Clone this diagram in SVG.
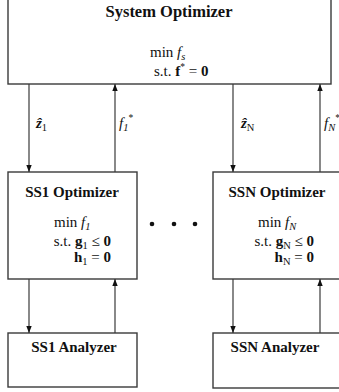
<svg xmlns="http://www.w3.org/2000/svg" width="339" height="392" viewBox="0 0 339 392">
  <defs>
    <marker id="arrow" viewBox="0 0 7 6" refX="7" refY="3" markerWidth="7" markerHeight="6" markerUnits="userSpaceOnUse" orient="auto">
      <path d="M0,0.3 L7,3 L0,5.7 Z" fill="#111"/>
    </marker>
  </defs>
  <style>
    .box { fill: #fff; stroke: #3a3a3a; stroke-width: 1.4; }
    .wire { stroke: #3a3a3a; stroke-width: 1.2; fill: none; }
    .title { font-family: "Liberation Serif", "Times New Roman", serif; font-weight: bold; font-size: 15px; fill: #111; text-anchor: middle; }
    .math { font-family: "Liberation Serif", "Times New Roman", serif; font-size: 15px; fill: #111; }
    .it { font-style: italic; }
    .bf { font-weight: bold; }
    .dot { fill: #111; }
  </style>

  <!-- system-level optimizer -->
  <g id="system-optimizer">
    <rect class="box" x="8" y="-4" width="323" height="88"/>
    <text class="title" x="169" y="17" style="font-size:16.5px">System Optimizer</text>
    <text class="math" x="150" y="57">min <tspan class="it">f</tspan><tspan class="it" font-size="10.5" dy="2.5">s</tspan></text>
    <text class="math" x="154" y="76">s.t. <tspan class="bf">f</tspan><tspan font-size="9.5" dy="-6">*</tspan><tspan dy="6"> = </tspan><tspan class="bf">0</tspan></text>
  </g>

  <!-- subsystem 1 optimizer -->
  <g id="ss1-optimizer">
    <rect class="box" x="8" y="172" width="129" height="107"/>
    <text class="title" x="72" y="197">SS1 Optimizer</text>
    <text class="math" x="54" y="227">min <tspan class="it">f</tspan><tspan class="it" font-size="10.5" dy="2.5">1</tspan></text>
    <text class="math" x="111" y="246" text-anchor="end">s.t. <tspan class="bf">g</tspan><tspan font-size="10.5" dy="2.5">1</tspan><tspan dy="-2.5"> ≤ </tspan><tspan class="bf">0</tspan></text>
    <text class="math" x="111" y="262" text-anchor="end"><tspan class="bf">h</tspan><tspan font-size="10.5" dy="2.5">1</tspan><tspan dy="-2.5"> = </tspan><tspan class="bf">0</tspan></text>
  </g>

  <!-- subsystem N optimizer -->
  <g id="ssn-optimizer">
    <rect class="box" x="213" y="172" width="132" height="107"/>
    <text class="title" x="277" y="197">SSN Optimizer</text>
    <text class="math" x="258" y="227">min <tspan class="it">f</tspan><tspan class="it" font-size="10.5" dy="2.5">N</tspan></text>
    <text class="math" x="314" y="246" text-anchor="end">s.t. <tspan class="bf">g</tspan><tspan font-size="10.5" dy="2.5">N</tspan><tspan dy="-2.5"> ≤ </tspan><tspan class="bf">0</tspan></text>
    <text class="math" x="314" y="262" text-anchor="end"><tspan class="bf">h</tspan><tspan font-size="10.5" dy="2.5">N</tspan><tspan dy="-2.5"> = </tspan><tspan class="bf">0</tspan></text>
  </g>

  <!-- subsystem analyzers -->
  <g id="ss1-analyzer">
    <rect class="box" x="8" y="333" width="129" height="54"/>
    <text class="title" x="74" y="352">SS1 Analyzer</text>
  </g>
  <g id="ssn-analyzer">
    <rect class="box" x="213" y="333" width="132" height="55"/>
    <text class="title" x="275" y="352">SSN Analyzer</text>
  </g>

  <!-- ellipsis between subsystems -->
  <g id="ellipsis">
    <circle class="dot" cx="152" cy="224" r="2.3"/>
    <circle class="dot" cx="174" cy="224" r="2.3"/>
    <circle class="dot" cx="195" cy="224" r="2.3"/>
  </g>

  <!-- connectors -->
  <g id="connectors">
    <line class="wire" x1="29" y1="84" x2="29" y2="172" marker-end="url(#arrow)"/>
    <line class="wire" x1="115" y1="172" x2="115" y2="84" marker-end="url(#arrow)"/>
    <line class="wire" x1="233" y1="84" x2="233" y2="172" marker-end="url(#arrow)"/>
    <line class="wire" x1="320" y1="172" x2="320" y2="84" marker-end="url(#arrow)"/>
    <line class="wire" x1="29" y1="279" x2="29" y2="333" marker-end="url(#arrow)"/>
    <line class="wire" x1="115" y1="333" x2="115" y2="279" marker-end="url(#arrow)"/>
    <line class="wire" x1="233" y1="279" x2="233" y2="333" marker-end="url(#arrow)"/>
    <line class="wire" x1="320" y1="333" x2="320" y2="279" marker-end="url(#arrow)"/>

    <text class="math" x="36" y="128"><tspan class="bf it">ẑ</tspan><tspan font-size="10.5" dy="2.5">1</tspan></text>
    <text class="math" x="119" y="128"><tspan class="it">f</tspan><tspan class="it" font-size="10.5" dy="2.5">1</tspan><tspan font-size="9.5" dy="-10">*</tspan></text>
    <text class="math" x="241" y="128"><tspan class="bf it">ẑ</tspan><tspan font-size="10.5" dy="2.5">N</tspan></text>
    <text class="math" x="324" y="128"><tspan class="it">f</tspan><tspan class="it" font-size="10.5" dy="2.5">N</tspan><tspan font-size="9.5" dy="-10">*</tspan></text>
  </g>
</svg>
